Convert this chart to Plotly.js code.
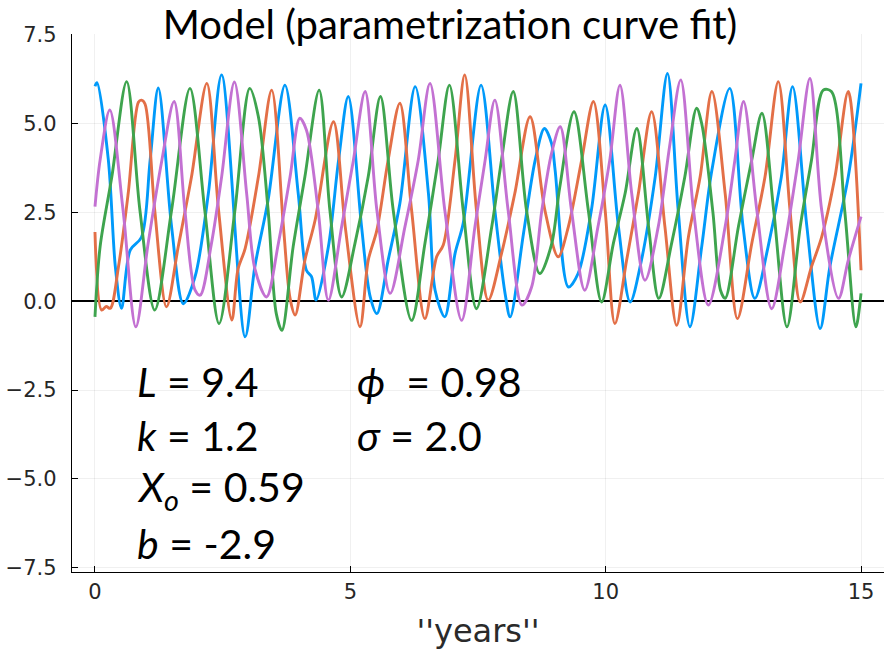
<!DOCTYPE html>
<html>
<head>
<meta charset="utf-8">
<script src="https://cdn.plot.ly/plotly-3.0.1.min.js"></script>
<style>html,body{margin:0;padding:0;background:#fff;}#chart{width:886px;height:652px;}</style>
</head>
<body>
<div id="chart"></div>
<script>
// ---- data (key points of each curve) ----
const blueX = [0.00,0.04,0.26,0.40,0.52,0.69,0.91,1.08,1.24,1.50,1.73,1.96,2.22,2.48,2.94,3.13,3.39,3.72,3.98,4.14,4.24,4.33,4.57,4.77,4.96,5.22,5.39,5.52,5.74,5.97,6.27,6.53,6.66,6.85,7.05,7.21,7.56,7.83,8.03,8.13,8.39,8.62,8.80,8.94,9.01,9.27,9.46,9.72,9.99,10.25,10.48,10.70,10.97,11.21,11.42,11.65,11.88,12.08,12.43,12.69,12.92,13.18,13.44,13.66,13.94,14.20,14.39,14.75,15.00];
const blueY = [6.05,6.15,4.00,0.95,-0.20,1.44,1.80,3.97,6.00,2.10,-0.07,0.69,3.03,6.37,-1.00,0.97,2.85,6.08,3.03,0.87,0.69,0.03,1.53,3.97,5.76,2.10,0.12,-0.35,1.15,2.75,6.04,3.03,0.31,-0.44,1.34,2.19,6.08,2.56,0.22,-0.44,1.90,3.97,4.86,4.44,3.69,0.40,0.78,2.56,5.52,2.10,-0.02,1.15,3.50,6.41,2.56,-0.72,1.53,3.69,5.99,2.10,0.08,1.53,3.50,6.04,2.10,-0.77,0.97,3.50,6.13];

const orangeX = [0.00,0.13,0.22,0.30,0.46,0.65,0.85,0.91,0.98,1.17,1.40,1.63,1.89,2.19,2.42,2.68,2.80,2.94,3.20,3.46,3.69,3.82,3.92,4.11,4.31,4.67,4.90,5.19,5.35,5.52,5.74,5.97,6.20,6.46,6.69,6.82,7.05,7.24,7.47,7.70,7.96,8.22,8.52,8.81,9.07,9.27,9.53,9.76,9.99,10.18,10.41,10.64,10.90,11.16,11.39,11.62,11.85,12.08,12.34,12.58,12.86,13.12,13.38,13.61,13.81,14.03,14.23,14.49,14.75,15.00];
const orangeY = [1.95,-0.25,-0.15,-0.20,0.97,3.03,5.60,5.66,5.55,2.56,-0.16,1.53,3.50,6.13,2.56,-0.53,0.90,1.48,3.50,5.94,2.10,0.08,-0.39,1.15,2.28,5.05,2.10,-0.72,1.15,2.00,3.97,5.57,2.56,-0.49,1.25,1.58,3.97,6.37,2.56,0.03,1.34,3.03,5.19,2.56,1.25,2.10,3.97,5.62,2.56,-0.63,1.15,3.03,5.33,2.10,-0.68,1.81,3.50,5.90,3.03,-0.49,1.62,3.50,6.18,2.56,-0.02,0.97,1.81,3.50,5.90,0.87];

const greenX = [0.00,0.10,0.33,0.62,0.88,1.17,1.50,1.86,2.15,2.43,2.74,3.03,3.20,3.39,3.55,3.66,3.88,4.11,4.39,4.60,4.83,5.09,5.35,5.59,5.84,6.20,6.46,6.72,6.94,7.21,7.47,7.77,7.96,8.19,8.45,8.71,8.94,9.10,9.38,9.66,9.92,10.15,10.38,10.61,10.84,11.04,11.29,11.55,11.78,11.88,12.10,12.25,12.34,12.60,12.86,13.06,13.29,13.55,13.81,14.03,14.26,14.42,14.68,14.90,15.00];
const greenY = [-0.44,1.53,3.50,6.18,2.56,-0.25,2.56,5.99,2.56,-0.63,2.56,5.99,5.19,2.56,-0.35,-0.82,1.53,3.50,5.94,2.56,0.12,1.62,3.50,5.76,2.56,-0.54,1.62,3.97,6.08,2.56,-0.21,2.10,3.97,5.90,2.56,0.78,1.60,3.20,5.33,2.56,-0.02,1.62,3.03,4.86,2.10,0.08,1.62,3.50,5.43,5.00,2.50,0.30,0.08,2.10,3.97,5.29,2.56,-0.72,2.10,3.97,5.94,5.90,2.56,-0.72,0.22];

const purpleX = [0.00,0.10,0.29,0.55,0.80,1.04,1.31,1.55,1.76,1.96,2.06,2.28,2.48,2.73,2.97,3.13,3.36,3.59,3.82,4.01,4.14,4.37,4.57,4.83,5.06,5.29,5.52,5.78,6.07,6.33,6.56,6.85,7.18,7.44,7.64,7.83,8.09,8.36,8.55,8.75,8.94,9.11,9.33,9.59,9.85,10.08,10.28,10.51,10.77,11.03,11.26,11.47,11.72,12.01,12.34,12.53,12.70,12.96,13.25,13.51,13.77,14.00,14.23,14.56,14.75,15.00];
const purpleY = [2.66,3.97,5.38,2.56,-0.72,1.62,3.97,5.62,2.56,0.31,0.17,1.62,3.50,6.17,3.03,0.92,0.12,1.62,3.50,5.15,4.82,2.56,0.03,2.10,3.97,5.90,2.56,0.22,2.10,3.97,6.13,2.56,-0.54,2.10,3.97,5.66,2.56,-0.11,0.40,2.56,4.16,4.91,2.56,0.31,2.10,3.97,6.08,3.03,0.59,2.10,4.44,6.23,2.56,-0.11,2.10,3.97,5.62,2.56,-0.21,1.62,3.97,6.27,2.56,0.08,1.15,2.38];

const xTicks = [0, 5, 10, 15];
const yTicks = [-7.5, -5.0, -2.5, 0.0, 2.5, 5.0, 7.5];
const paramsLeft = ["<i>L</i> = 9.4", "<i>k</i> = 1.2", "<i>X<sub>o</sub></i> = 0.59", "<i>b</i> = -2.9"];
const paramsRight = ["<i>ϕ</i>  = 0.98", "<i>σ</i> = 2.0"];
const paramRowsY = [-2.25, -3.77, -5.30, -6.82];

const colors = ['#009AFA', '#E36F47', '#3EA44E', '#C371D2'];
const seriesX = [blueX, orangeX, greenX, purpleX];
const seriesY = [blueY, orangeY, greenY, purpleY];

const traces = seriesX.map((xs, i) => ({
  x: xs, y: seriesY[i], type: 'scatter', mode: 'lines',
  line: {color: colors[i], width: 2.9, shape: 'spline', smoothing: 0.9},
  hoverinfo: 'skip', showlegend: false
}));

const annFont = {family: 'Lato, "Open Sans", "DejaVu Sans", sans-serif', size: 41, color: '#000'};
const annotations = [];
paramsLeft.forEach((t, i) => annotations.push({
  x: 0.78, y: paramRowsY[i], xref: 'x', yref: 'y', text: t, showarrow: false,
  xanchor: 'left', yanchor: 'middle', font: annFont
}));
paramsRight.forEach((t, i) => annotations.push({
  x: 5.09, y: paramRowsY[i], xref: 'x', yref: 'y', text: t, showarrow: false,
  xanchor: 'left', yanchor: 'middle', font: annFont
}));

const tickFont = {family: '"DejaVu Sans", sans-serif', size: 21, color: '#262626'};

const layout = {
  width: 886, height: 652,
  margin: {l: 72, r: 2, t: 34, b: 80},
  paper_bgcolor: '#fff', plot_bgcolor: '#fff',
  title: {
    text: 'Model (parametrization curve fit)',
    font: {family: 'Lato, "Open Sans", sans-serif', size: 40, color: '#000'},
    xref: 'container', yref: 'container', x: 0.508, xanchor: 'center', y: 1 - 25/652, yanchor: 'middle'
  },
  xaxis: {
    range: [-0.45, 15.45], tickvals: xTicks, ticktext: xTicks.map(String),
    showline: true, linecolor: '#000', linewidth: 1.2, mirror: false,
    ticks: 'inside', ticklen: 6, tickcolor: '#000', tickwidth: 1,
    showgrid: true, gridcolor: 'rgba(0,0,0,0.1)', gridwidth: 0.6,
    zeroline: false, tickfont: tickFont, ticklabelstandoff: 1,
    title: {text: "''years''", font: {family: '"DejaVu Sans", sans-serif', size: 32, color: '#2a2a2a'}, standoff: 16}
  },
  yaxis: {
    range: [-7.62, 7.52], tickvals: yTicks, tickformat: '.1f',
    showline: true, linecolor: '#000', linewidth: 1.2, mirror: false,
    ticks: 'inside', ticklen: 6, tickcolor: '#000', tickwidth: 1,
    showgrid: true, gridcolor: 'rgba(0,0,0,0.1)', gridwidth: 0.6,
    zeroline: true, zerolinecolor: '#000', zerolinewidth: 1.6,
    tickfont: tickFont, ticklabelstandoff: 10
  },
  annotations: annotations
};

Plotly.newPlot('chart', traces, layout, {staticPlot: true, displayModeBar: false});
</script>
</body>
</html>
